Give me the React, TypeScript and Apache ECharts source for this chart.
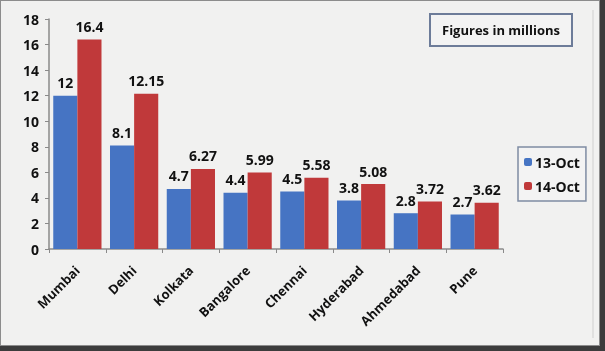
import React, { useEffect, useRef } from "react";
import * as echarts from "echarts";

const categories = ["Mumbai", "Delhi", "Kolkata", "Bangalore", "Chennai", "Hyderabad", "Ahmedabad", "Pune"];
const oct13 = [12, 8.1, 4.7, 4.4, 4.5, 3.8, 2.8, 2.7];
const oct14 = [16.4, 12.15, 6.27, 5.99, 5.58, 5.08, 3.72, 3.62];
const seriesNames = ["13-Oct", "14-Oct"];
const noteText = "Figures in millions";

const FONT = "'Open Sans', 'Noto Sans', sans-serif";

export default function App() {
  const ref = useRef<HTMLDivElement>(null);
  useEffect(() => {
    if (!ref.current) return;
    const chart = echarts.init(ref.current, undefined, { renderer: "svg" });
    const labelStyle = {
      show: true,
      position: "top" as const,
      distance: 6,
      color: "#111",
      fontSize: 14,
      fontWeight: "bold" as const,
      fontFamily: FONT,
    };
    chart.setOption({
      animation: false,
      textStyle: { fontFamily: FONT },
      grid: { left: 49, right: 102, top: 19, bottom: 102, containLabel: false },
      graphic: [
        { type: "rect", shape: { x: 0, y: 0, width: 605, height: 351 }, style: { fill: "#3c3c3c" }, z: -10 },
        { type: "rect", shape: { x: 0, y: 0, width: 600, height: 346 }, style: { fill: "#8c8c8c" }, z: -9 },
        { type: "rect", shape: { x: 1, y: 1, width: 598, height: 344 }, style: { fill: "#f1f1f0" }, z: -8 },
        { type: "line", shape: { x1: 593, y1: 10, x2: 593, y2: 338 }, style: { stroke: "#cfcfcf", lineWidth: 1 }, z: -7 },
        {
          type: "group",
          left: 429,
          top: 13,
          children: [
            { type: "rect", shape: { x: 0, y: 0, width: 142, height: 32 }, style: { fill: "#f3f3f3", stroke: "#6d7c99", lineWidth: 2 } },
            {
              type: "text",
              x: 71,
              y: 16,
              style: { text: noteText, fill: "#111", font: `bold 13px ${FONT}`, align: "center", verticalAlign: "middle" },
            },
          ],
        },
      ],
      legend: {
        orient: "vertical",
        left: 518,
        top: 147,
        padding: [8, 6, 8, 6],
        itemWidth: 8,
        itemHeight: 8,
        itemGap: 10,
        backgroundColor: "#f3f3f3",
        borderColor: "#7f8ca3",
        borderWidth: 1.5,
        textStyle: { fontSize: 14, fontWeight: "bold", color: "#111", fontFamily: FONT, padding: [0, 0, 0, -2] },
        data: seriesNames,
      },
      xAxis: {
        type: "category",
        data: categories,
        axisLine: { lineStyle: { color: "#8a8a8a", width: 1.5 } },
        axisTick: { show: true, length: 4, lineStyle: { color: "#8a8a8a" } },
        axisLabel: {
          rotate: 45,
          margin: 19,
          interval: 0,
          color: "#111",
          fontSize: 13,
          fontWeight: "bold",
          fontFamily: FONT,
        },
      },
      yAxis: {
        type: "value",
        min: 0,
        max: 18,
        interval: 2,
        splitLine: { show: false },
        axisLine: { show: true, lineStyle: { color: "#8a8a8a", width: 1.5 } },
        axisTick: { show: true, length: 4, lineStyle: { color: "#8a8a8a" } },
        axisLabel: { margin: 10, color: "#111", fontSize: 14, fontWeight: "bold", fontFamily: FONT },
      },
      series: [
        {
          name: seriesNames[0],
          type: "bar",
          data: oct13,
          barGap: "0%",
          barCategoryGap: "15%",
          itemStyle: { color: "#4674c3" },
          label: labelStyle,
        },
        {
          name: seriesNames[1],
          type: "bar",
          data: oct14,
          itemStyle: { color: "#c0393a" },
          label: labelStyle,
        },
      ],
    });
    return () => chart.dispose();
  }, []);
  return <div ref={ref} style={{ position: "fixed", left: 0, top: 0, width: 605, height: 351 }} />;
}
